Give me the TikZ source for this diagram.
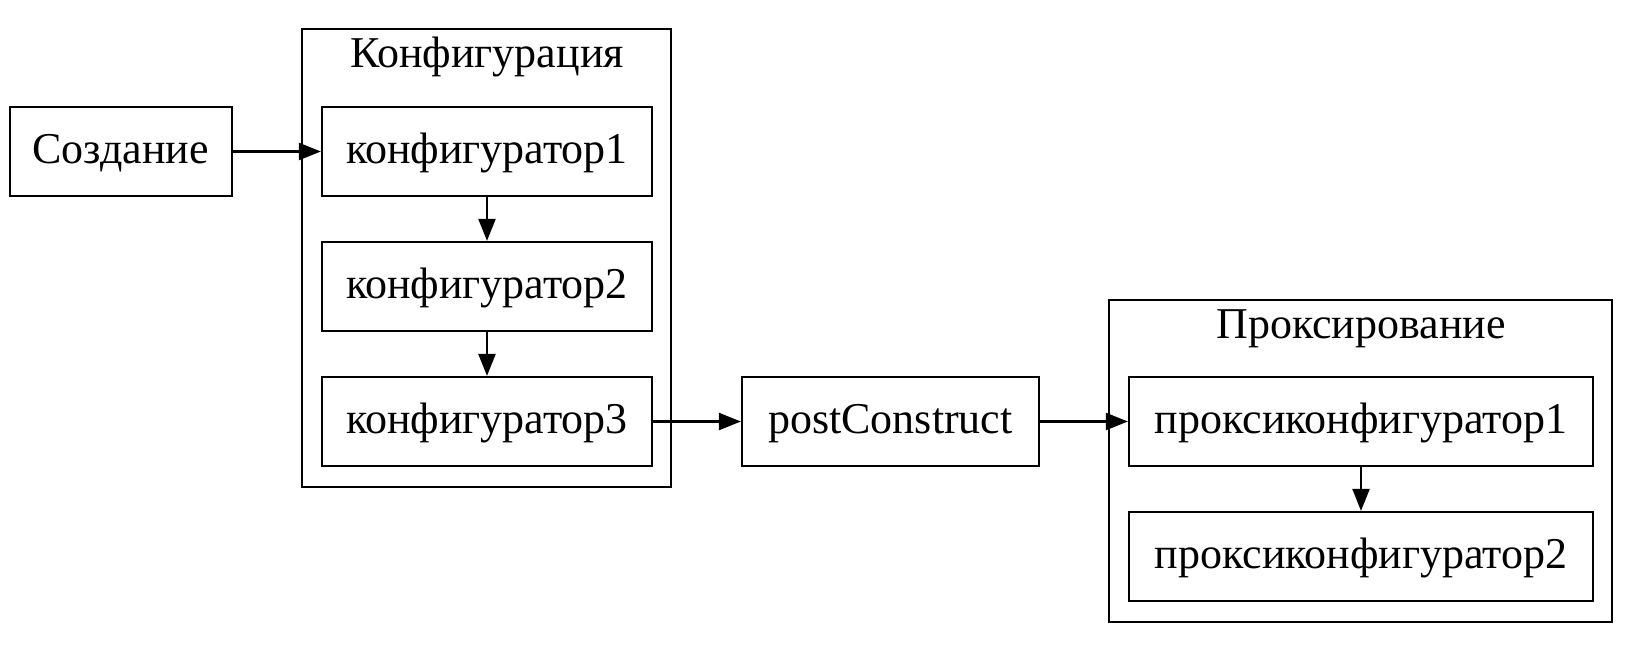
\documentclass[tikz,border=0pt]{standalone}
\usepackage{fontspec}
\setmainfont{Liberation Serif}
\usetikzlibrary{arrows.meta}

\begin{document}
\begin{tikzpicture}[x=0.5pt, y=-0.5pt, every node/.style={font=\fontsize{22}{26}\selectfont}, >={Triangle[length=11pt, width=8.5pt]},
	box/.style={draw, line width=1.1pt, minimum height=44.5pt, inner sep=0pt, text height=16pt, text depth=4pt},
	cluster/.style={draw, line width=1.1pt}]
	\useasboundingbox (0,0) rectangle (1645,653);
	% clusters
	\draw[cluster] (302,29) rectangle (671,487);
	\node[anchor=base] (conftitle) at (487,68) {Конфигурация};
	\draw[cluster] (1109,300) rectangle (1612,622);
	\node[anchor=base] (proxytitle) at (1361,338) {Проксирование};
	% nodes
	\node[box, minimum width=111pt] (create) at (120.7,151.5) {Создание};
	\node[box, minimum width=165pt] (conf1) at (487,151.5) {конфигуратор1};
	\node[box, minimum width=165pt] (conf2) at (487,286.5) {конфигуратор2};
	\node[box, minimum width=165pt] (conf3) at (487,421.5) {конфигуратор3};
	\node[box, minimum width=148.5pt] (post) at (890.5,421.5) {postConstruct};
	\node[box, minimum width=232pt] (proxy1) at (1361,421.5) {проксиконфигуратор1};
	\node[box, minimum width=232pt] (proxy2) at (1361,556.5) {проксиконфигуратор2};
	% edges
	\draw[->, line width=1.1pt] (create) -- (conf1);
	\draw[->, line width=1.1pt] (conf1) -- (conf2);
	\draw[->, line width=1.1pt] (conf2) -- (conf3);
	\draw[->, line width=1.1pt] (conf3) -- (post);
	\draw[->, line width=1.1pt] (post) -- (proxy1);
	\draw[->, line width=1.1pt] (proxy1) -- (proxy2);
\end{tikzpicture}
\end{document}
